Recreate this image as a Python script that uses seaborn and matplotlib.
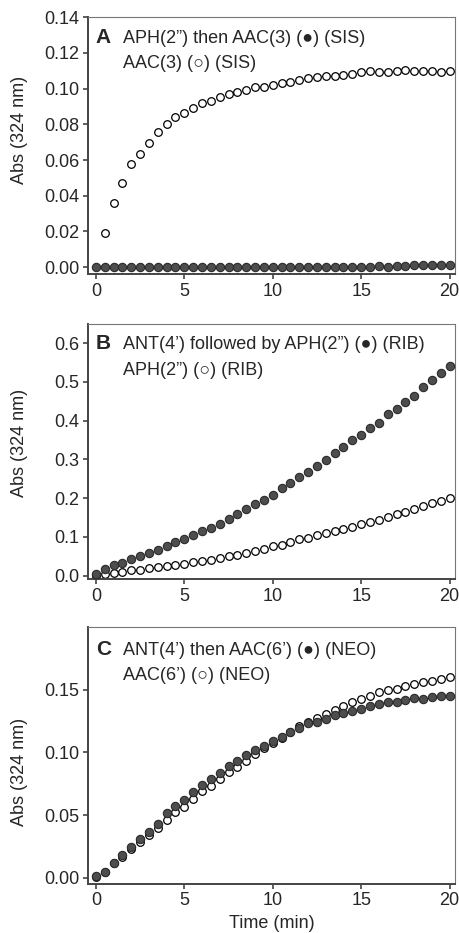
import numpy as np
import pandas as pd
import seaborn as sns
import matplotlib.pyplot as plt

time = [i * 0.5 for i in range(41)]

# panel A (SIS)
a_open = [np.nan, 0.0194, 0.0358, 0.0474, 0.0577, 0.0633, 0.0698, 0.0760, 0.0803, 0.0844,
          0.0866, 0.0894, 0.0922, 0.0933, 0.0956, 0.0969, 0.0984, 0.0991, 0.1010, 0.1012,
          0.1023, 0.1030, 0.1040, 0.1047, 0.1057, 0.1064, 0.1070, 0.1070, 0.1077, 0.1083,
          0.1092, 0.1098, 0.1096, 0.1096, 0.1098, 0.1103, 0.1100, 0.1100, 0.1098, 0.1096,
          0.1100]
a_filled = [0.0] * 31 + [0.0001, 0.0004, 0.0002, 0.0006, 0.0009, 0.0011, 0.0013, 0.0013,
                         0.0011, 0.0011]

# panel B (RIB)
b_filled = [0.004, 0.016, 0.026, 0.033, 0.042, 0.050, 0.057, 0.067, 0.077, 0.087,
            0.094, 0.104, 0.114, 0.122, 0.132, 0.147, 0.159, 0.171, 0.185, 0.195,
            0.207, 0.225, 0.238, 0.255, 0.268, 0.282, 0.298, 0.316, 0.331, 0.350,
            0.362, 0.380, 0.395, 0.416, 0.430, 0.447, 0.463, 0.487, 0.504, 0.524,
            0.542]
b_open = [0.000, 0.004, 0.006, 0.010, 0.013, 0.015, 0.019, 0.021, 0.025, 0.028,
          0.031, 0.034, 0.038, 0.041, 0.046, 0.050, 0.053, 0.059, 0.063, 0.068,
          0.075, 0.079, 0.086, 0.093, 0.096, 0.104, 0.110, 0.115, 0.119, 0.125,
          0.132, 0.138, 0.144, 0.151, 0.158, 0.164, 0.171, 0.180, 0.186, 0.193,
          0.200]

# panel C (NEO)
c_filled = [0.0010, 0.0048, 0.0120, 0.0180, 0.0248, 0.0312, 0.0365, 0.0429, 0.0514, 0.0573,
            0.0618, 0.0682, 0.0743, 0.0791, 0.0839, 0.0893, 0.0930, 0.0978, 0.1015, 0.1052,
            0.1092, 0.1122, 0.1162, 0.1194, 0.1231, 0.1242, 0.1266, 0.1298, 0.1314, 0.1332,
            0.1346, 0.1372, 0.1386, 0.1399, 0.1404, 0.1420, 0.1431, 0.1428, 0.1442, 0.1452,
            0.1452]
c_open = [0.0005, 0.0048, 0.0115, 0.0165, 0.0226, 0.0285, 0.0338, 0.0397, 0.0461, 0.0522,
          0.0565, 0.0626, 0.0690, 0.0733, 0.0786, 0.0847, 0.0882, 0.0933, 0.0983, 0.1036,
          0.1074, 0.1116, 0.1159, 0.1207, 0.1244, 0.1274, 0.1303, 0.1335, 0.1372, 0.1404,
          0.1426, 0.1447, 0.1479, 0.1500, 0.1505, 0.1527, 0.1543, 0.1564, 0.1567, 0.1585,
          0.1599]

panel_letters = ['A', 'B', 'C']
line1 = ['APH(2\u201d) then AAC(3) (\u25cf) (SIS)',
         'ANT(4\u2019) followed by APH(2\u201d) (\u25cf) (RIB)',
         'ANT(4\u2019) then AAC(6\u2019) (\u25cf) (NEO)']
line2 = ['AAC(3) (\u25cb) (SIS)', 'APH(2\u201d) (\u25cb) (RIB)', 'AAC(6\u2019) (\u25cb) (NEO)']
yticks = [[0.00, 0.02, 0.04, 0.06, 0.08, 0.10, 0.12, 0.14],
          [0.0, 0.1, 0.2, 0.3, 0.4, 0.5, 0.6],
          [0.00, 0.05, 0.10, 0.15]]
yfmt = ['{:.2f}', '{:.1f}', '{:.2f}']
ylims = [(-0.004, 0.14), (-0.01, 0.65), (-0.005, 0.2)]
xticks = [0, 5, 10, 15, 20]

sns.set_style('ticks')
plt.rcParams['font.family'] = ['Liberation Sans', 'DejaVu Sans']

fig = plt.figure(figsize=(4.6, 9.33), dpi=100)
boxes = [[0.191, 0.706, 0.798, 0.2755],
         [0.191, 0.379, 0.798, 0.274],
         [0.191, 0.0525, 0.798, 0.2755]]
text_y = [(0.899, 0.802), (0.902, 0.80), (0.891, 0.794)]
ylabel_y = [0.56, 0.535, 0.436]

series = [(a_open, a_filled), (b_open, b_filled), (c_open, c_filled)]

for i in range(3):
    ax = fig.add_axes(boxes[i])
    df = pd.DataFrame({'time': time, 'open': series[i][0], 'filled': series[i][1]})
    sns.scatterplot(data=df, x='time', y='open', ax=ax, s=30, facecolor='white',
                    edgecolor='black', linewidth=0.9, zorder=2)
    sns.scatterplot(data=df, x='time', y='filled', ax=ax, s=36, color='#4d4d4d',
                    edgecolor='#2b2b2b', linewidth=0.8, zorder=3)
    ax.set_xlim(-0.45, 20.3)
    ax.set_ylim(*ylims[i])
    ax.set_xticks(xticks)
    ax.set_yticks(yticks[i])
    ax.set_yticklabels([yfmt[i].format(v) for v in yticks[i]])
    ax.tick_params(labelsize=13, direction='out', length=3.5, width=1.2,
                   color='#444444', pad=2.5)
    for side in ['left', 'bottom']:
        ax.spines[side].set_color('#444444')
        ax.spines[side].set_linewidth(1.4)
    for side in ['top', 'right']:
        ax.spines[side].set_color('#777777')
        ax.spines[side].set_linewidth(0.8)
    ax.set_ylabel('Abs (324 nm)', fontsize=13)
    ax.yaxis.set_label_coords(-0.163, ylabel_y[i])
    if i == 2:
        ax.set_xlabel('Time (min)', fontsize=13)
        ax.xaxis.set_label_coords(0.5, -0.12)
    else:
        ax.set_xlabel('')
    ax.text(0.022, text_y[i][0], panel_letters[i], transform=ax.transAxes,
            fontsize=15, fontweight='bold')
    ax.text(0.095, text_y[i][0], line1[i], transform=ax.transAxes, fontsize=13)
    ax.text(0.095, text_y[i][1], line2[i], transform=ax.transAxes, fontsize=13)

fig.savefig('out.png', dpi=100)
